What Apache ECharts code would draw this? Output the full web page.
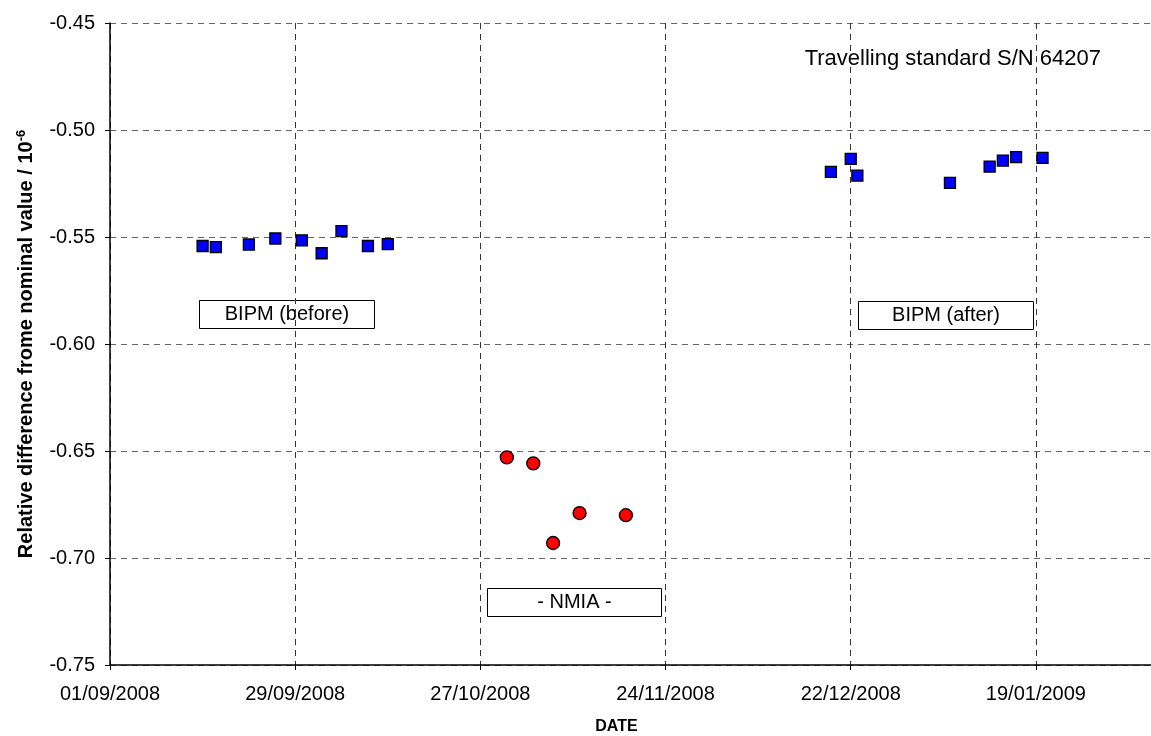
<!DOCTYPE html>
<html>
<head>
<meta charset="utf-8">
<script src="https://cdn.jsdelivr.net/npm/echarts@6/dist/echarts.min.js"></script>
<style>html,body{margin:0;padding:0;background:#fff}#c{width:1151px;height:736px}</style>
</head>
<body>
<div id="c"></div>
<script>
// ---- data ----
const startDate = '01/09/2008';
const xTickDays = 28;
const yTicks = ['-0.45','-0.50','-0.55','-0.60','-0.65','-0.70','-0.75'];

const bipmBeforeDates = ['15/09/2008','17/09/2008','22/09/2008','26/09/2008','30/09/2008','03/10/2008','06/10/2008','10/10/2008','13/10/2008'];
const bipmBeforeValues = [-0.5542,-0.5547,-0.5535,-0.5507,-0.5516,-0.5576,-0.5473,-0.5542,-0.5533];

const nmiaDates = ['31/10/2008','04/11/2008','07/11/2008','11/11/2008','18/11/2008'];
const nmiaValues = [-0.6530,-0.6558,-0.6930,-0.6790,-0.6800];

const bipmAfterDates = ['19/12/2008','22/12/2008','23/12/2008','06/01/2009','12/01/2009','14/01/2009','16/01/2009','20/01/2009'];
const bipmAfterValues = [-0.5196,-0.5135,-0.5213,-0.5247,-0.5171,-0.5143,-0.5127,-0.5130];

// ---- helpers ----
function parseD(s){const p=s.split('/');return Date.UTC(+p[2],+p[1]-1,+p[0]);}
const t0 = parseD(startDate);
const DAY = 86400000;
function toDay(s){return (parseD(s)-t0)/DAY;}
function fmtDay(v){
  const d=new Date(t0+Math.round(v)*DAY);
  const p=n=>String(n).padStart(2,'0');
  return p(d.getUTCDate())+'/'+p(d.getUTCMonth()+1)+'/'+d.getUTCFullYear();
}
function pts(ds,vs){return ds.map((d,i)=>[toDay(d),vs[i]]);}

const chart = echarts.init(document.getElementById('c'));
const FONT = '"Liberation Sans", Arial, sans-serif';
const boxStyle = {fill:'#fff', stroke:'#000', lineWidth:1};

chart.setOption({
  animation:false,
  backgroundColor:'#fff',
  grid:{left:110, top:23, right:0, bottom:71, containLabel:false, outerBoundsMode:'none'},
  xAxis:{
    type:'value', min:0, max:157.4, interval:xTickDays,
    name:'DATE', nameLocation:'middle', nameGap:54,
    nameTextStyle:{fontFamily:FONT, fontWeight:'bold', fontSize:16, color:'#000', padding:[0,28,0,0]},
    axisLine:{lineStyle:{color:'#000', width:1.5}},
    axisTick:{show:true, length:5, inside:false, lineStyle:{color:'#000'}},
    axisLabel:{formatter:fmtDay, showMaxLabel:false, margin:19, fontFamily:FONT, fontSize:20, color:'#000'},
    splitLine:{show:true, lineStyle:{type:[6,5], color:'#333', width:1}}
  },
  yAxis:{
    type:'value', min:-0.75, max:-0.45, interval:0.05,
    name:'{a|Relative difference frome nominal value / 10}{b|-6}',
    nameLocation:'middle', nameGap:72, nameRotate:90,
    nameTextStyle:{rich:{
      a:{fontFamily:FONT, fontWeight:'bold', fontSize:20, color:'#000'},
      b:{fontFamily:FONT, fontWeight:'bold', fontSize:13, color:'#000', verticalAlign:'top', padding:[0,0,10,0]}
    }},
    axisLine:{show:true, lineStyle:{color:'#000', width:1.5}},
    axisTick:{show:true, length:5, lineStyle:{color:'#000'}},
    axisLabel:{formatter:v=>v.toFixed(2), margin:15, fontFamily:FONT, fontSize:20, color:'#000'},
    splitLine:{show:true, lineStyle:{type:[6,5], color:'#666', width:1}}
  },
  series:[
    {type:'scatter', name:'BIPM (before)', data:pts(bipmBeforeDates,bipmBeforeValues),
     symbol:'rect', symbolSize:11, itemStyle:{color:'#0000ff', opacity:1, borderColor:'#000', borderWidth:1.3}},
    {type:'scatter', name:'NMIA', data:pts(nmiaDates,nmiaValues),
     symbol:'circle', symbolSize:13, itemStyle:{color:'#ff0000', opacity:1, borderColor:'#000', borderWidth:1.3}},
    {type:'scatter', name:'BIPM (after)', data:pts(bipmAfterDates,bipmAfterValues),
     symbol:'rect', symbolSize:11, itemStyle:{color:'#0000ff', opacity:1, borderColor:'#000', borderWidth:1.3}}
  ],
  graphic:[
    {type:'text', right:50, top:48, style:{text:'Travelling standard S/N 64207', font:'22px '+FONT, fill:'#000'}},
    {type:'group', left:199, top:300, children:[
      {type:'rect', shape:{x:0,y:0,width:175,height:28}, style:boxStyle},
      {type:'text', x:87.5, y:14, style:{text:'BIPM (before)', font:'20px '+FONT, fill:'#000', align:'center', verticalAlign:'middle'}}
    ]},
    {type:'group', left:858, top:301, children:[
      {type:'rect', shape:{x:0,y:0,width:175,height:28}, style:boxStyle},
      {type:'text', x:87.5, y:14, style:{text:'BIPM (after)', font:'20px '+FONT, fill:'#000', align:'center', verticalAlign:'middle'}}
    ]},
    {type:'group', left:487, top:588, children:[
      {type:'rect', shape:{x:0,y:0,width:174,height:28}, style:boxStyle},
      {type:'text', x:87, y:14, style:{text:'- NMIA -', font:'20px '+FONT, fill:'#000', align:'center', verticalAlign:'middle'}}
    ]}
  ]
});
</script>
</body>
</html>
